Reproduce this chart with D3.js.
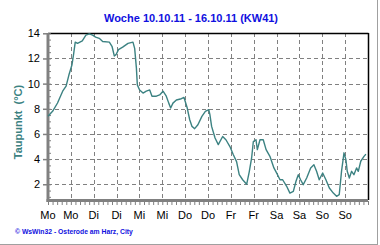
<!DOCTYPE html>
<html><head><meta charset="utf-8">
<script src="https://cdn.jsdelivr.net/npm/d3@7"></script>
<style>body{margin:0;background:#fff}svg{display:block}</style>
</head><body>
<script>
const dayLabels = ["Mo","Mo","Di","Di","Mi","Mi","Do","Do","Fr","Fr","Sa","Sa","So","So"];
const yTicks = [2,4,6,8,10,12,14];
const hours = [0,2.4,5,7.7,9.5,11,12.6,13.5,14.3,15.5,18,19.9,21.7,23.4,25,26.9,28.7,32.2,33.6,34.8,35.7,37,39.2,42,44.6,45.5,46.4,46.9,48.1,49.9,51.6,53.4,54.6,56.9,58.6,60.4,62.1,63.4,64.4,65.6,67.4,70,71.4,73.1,74.4,75.6,77,78.7,80.8,82.6,84.4,85,85.9,87.7,89.4,91.7,93.4,95.5,97.3,99,100.4,102.2,104.3,105.7,106.9,107.8,109.2,109.9,111.3,113,114.5,116.5,118.6,120,121.8,123.2,125.3,127,128.8,130.2,131.4,132.6,134,135.8,137.9,139.6,141,142.4,144.2,145.9,147.7,149.8,151.5,152.9,154.1,155.4,156.4,157.1,158.2,159.4,160.6,162,162.9,164.2,165.9,166.9];
const dewpoint = [7.4,7.8,8.46,9.4,9.8,10.7,11.5,12.4,13.3,13.2,13.4,13.85,13.95,13.85,13.7,13.6,13.35,13.3,12.97,12.2,12.3,12.7,12.9,13.2,13.3,12.8,11.25,9.9,9.5,9.25,9.4,9.5,9.0,9.0,9.1,9.4,9.0,8.45,8.06,8.45,8.7,8.8,8.9,8.06,7.13,6.6,6.42,6.73,7.4,7.8,7.93,7.53,6.6,5.68,5.15,5.8,5.54,5.0,4.35,3.8,2.76,2.36,2.0,3.03,4.09,5.4,5.54,4.75,5.54,5.54,4.75,4.22,3.3,2.9,2.36,2.36,1.84,1.3,1.44,2.24,2.76,2.36,1.97,2.5,3.3,3.55,3.03,2.36,2.9,2.36,1.7,1.3,1.04,1.17,3.03,4.5,3.96,3.03,2.5,3.03,2.76,3.3,3.03,3.83,4.22,4.4];

const W = 380, H = 245;
const svg = d3.select("body").append("svg").attr("width", W).attr("height", H);
const x = d3.scaleLinear().domain([0,168]).range([48,368]);
const y = d3.scaleLinear().domain([0.75,14]).range([200,33.3]);

// outer frame
svg.append("line").attr("x1",377.5).attr("x2",377.5).attr("y1",0).attr("y2",244).attr("stroke","#a0a0a0");
svg.append("line").attr("x1",0).attr("x2",378).attr("y1",244.5).attr("y2",244.5).attr("stroke","#a0a0a0");

// grid
const grid = svg.append("g").attr("stroke","#808080").attr("stroke-dasharray","4,3").attr("stroke-width",1);
d3.range(1,14).forEach(i => {
  const gx = Math.round(x(i*12))+0.5;
  grid.append("line").attr("x1",gx).attr("x2",gx).attr("y1",33).attr("y2",200);
});
yTicks.forEach(v => {
  if (v === 14) return;
  const gy = Math.round(y(v))+0.5;
  grid.append("line").attr("x1",48).attr("x2",368).attr("y1",gy).attr("y2",gy);
});

// border top/right
svg.append("line").attr("x1",48).attr("x2",368.5).attr("y1",33.5).attr("y2",33.5).attr("stroke","#000").attr("stroke-width",1.5);
svg.append("line").attr("x1",368.5).attr("x2",368.5).attr("y1",33).attr("y2",200).attr("stroke","#000").attr("stroke-width",1.5);

// x axis
const xAxis = d3.axisBottom(x).tickValues(d3.range(0,169,2.4)).tickSize(4).tickFormat("");
const gx = svg.append("g").attr("transform","translate(0,201)").call(xAxis);
gx.select(".domain").remove();
gx.selectAll("line").attr("stroke","#808080");
svg.append("line").attr("x1",46.5).attr("x2",368).attr("y1",200.5).attr("y2",200.5).attr("stroke","#808080").attr("stroke-width",3);
svg.append("g").selectAll("text").data(dayLabels).join("text")
  .attr("x",(d,i)=>x(i*12)).attr("y",219).attr("text-anchor","middle")
  .attr("font-family","Arial, Liberation Sans, sans-serif").attr("font-size",11).attr("fill","#000").text(d=>d);

// y axis
const yAxisMinor = d3.axisRight(y).tickValues(d3.range(1,14.01,0.5)).tickSize(2).tickFormat("");
const gym = svg.append("g").attr("transform","translate(49,0)").call(yAxisMinor);
gym.select(".domain").remove();
gym.selectAll("line").attr("stroke","#808080");
const yAxis = d3.axisLeft(y).tickValues(yTicks).tickSize(5).tickPadding(3).tickFormat(d3.format("d"));
const gy = svg.append("g").attr("transform","translate(48,0)").call(yAxis);
gy.select(".domain").remove();
gy.selectAll("line").attr("stroke","#808080").attr("stroke-width",1.5);
gy.selectAll("text").attr("font-family","Arial, Liberation Sans, sans-serif").attr("font-size",11).attr("fill","#000");
svg.append("line").attr("x1",48).attr("x2",48).attr("y1",33).attr("y2",202).attr("stroke","#808080").attr("stroke-width",3);

// data line
const line = d3.line().x((d,i)=>x(hours[i])).y(d=>y(d));
svg.append("path").datum(dewpoint).attr("d",line).attr("fill","none")
  .attr("stroke","#3c8282").attr("stroke-width",1.4).attr("stroke-linejoin","round");

// title
svg.append("text").attr("x",191).attr("y",22).attr("text-anchor","middle")
  .attr("font-family","Arial, Liberation Sans, sans-serif").attr("font-weight","bold").attr("font-size",11)
  .attr("fill","#1010e0").text("Woche 10.10.11 - 16.10.11 (KW41)");

// y label
svg.append("text").attr("transform","translate(22,122) rotate(-90)").attr("text-anchor","middle")
  .attr("font-family","Arial, Liberation Sans, sans-serif").attr("font-weight","bold").attr("font-size",11)
  .attr("fill","#3c8282").attr("xml:space","preserve").text("Taupunkt  (°C)");

// footer
svg.append("text").attr("x",15).attr("y",234)
  .attr("font-family","Arial, Liberation Sans, sans-serif").attr("font-weight","bold").attr("font-size",6.8)
  .attr("fill","#1010e0").text("© WsWin32  -  Osterode am Harz, City");
</script>
</body></html>
